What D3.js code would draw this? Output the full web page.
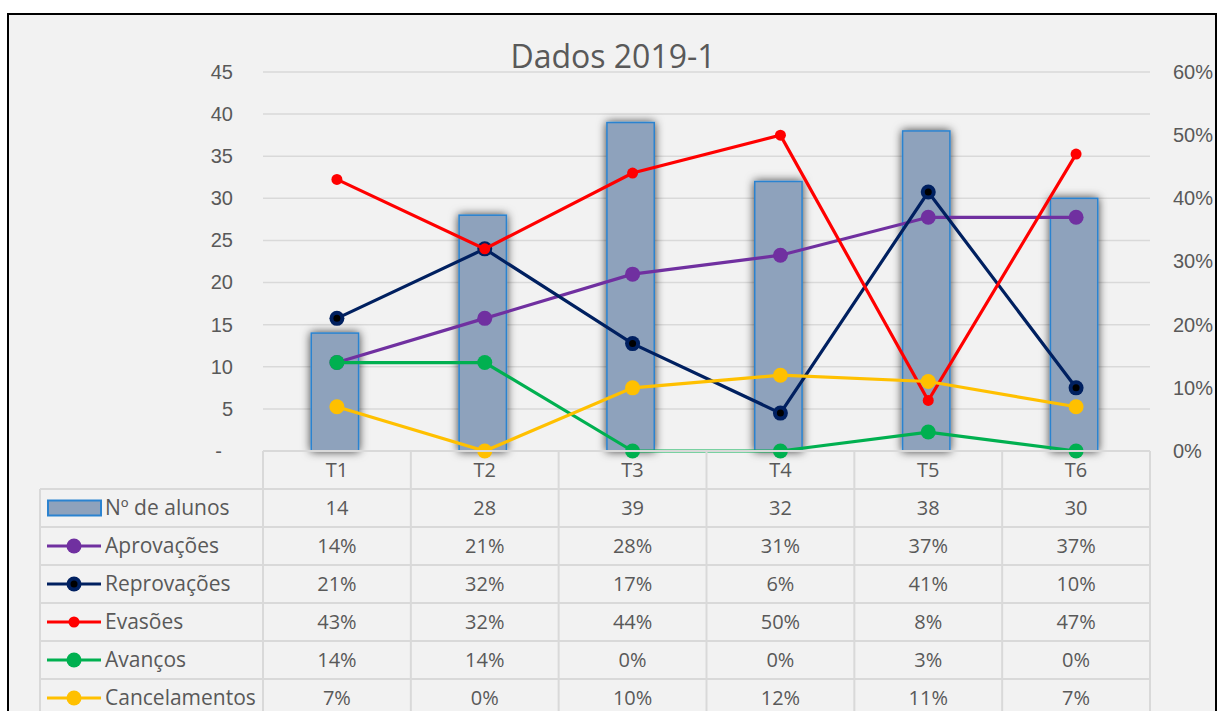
<!DOCTYPE html>
<html>
<head>
<meta charset="utf-8">
<script src="https://cdn.jsdelivr.net/npm/d3@7"></script>
<style>
  body { margin: 0; background: #fff; }
  svg { display: block; font-family: "Open Sans", "Noto Sans", sans-serif; }
</style>
</head>
<body>
<div id="graph"></div>
<script>
// chart data
const categories = ["T1", "T2", "T3", "T4", "T5", "T6"];
const alunos = [14, 28, 39, 32, 38, 30];
const aprovacoes = [0.14, 0.21, 0.28, 0.31, 0.37, 0.37];
const reprovacoes = [0.21, 0.32, 0.17, 0.06, 0.41, 0.10];
const evasoes = [0.43, 0.32, 0.44, 0.50, 0.08, 0.47];
const avancos = [0.14, 0.14, 0.00, 0.00, 0.03, 0.00];
const cancelamentos = [0.07, 0.00, 0.10, 0.12, 0.11, 0.07];
const leftTicks = [0, 5, 10, 15, 20, 25, 30, 35, 40, 45];
const rightTicks = [0, 0.1, 0.2, 0.3, 0.4, 0.5, 0.6];
const title = "Dados 2019-1";

const lineSeries = [
  { name: "Aprovações", values: aprovacoes, color: "#7030a0", r: 7.5 },
  { name: "Reprovações", values: reprovacoes, color: "#002060", r: 7.5, inner: "#000" },
  { name: "Evasões", values: evasoes, color: "#ff0000", r: 5.5 },
  { name: "Avanços", values: avancos, color: "#00b050", r: 7.5 },
  { name: "Cancelamentos", values: cancelamentos, color: "#ffc000", r: 7.5 }
];

window.addEventListener("DOMContentLoaded", main)

function main() {
  const W = 1218, H = 711;
  const L = 263, R = 1150, T = 72, B = 451;
  const rowH = 38;
  const textCol = "#595959";
  const gridCol = "#d9d9d9";

  const svg = d3.select("#graph").append("svg").attr("width", W).attr("height", H)

  const defs = svg.append("defs")
  const f = defs.append("filter").attr("id", "shadow")
    .attr("x", "-60%").attr("y", "-20%").attr("width", "220%").attr("height", "140%")
  f.append("feDropShadow").attr("dx", 0).attr("dy", 0).attr("stdDeviation", 5)
    .attr("flood-color", "#000").attr("flood-opacity", 0.75)

  // frame
  svg.append("rect").attr("x", 8).attr("y", 14).attr("width", 1208).attr("height", 720)
    .attr("fill", "#f2f2f2").attr("stroke", "#000").attr("stroke-width", 2)

  const x = d3.scaleBand().domain(categories).range([L, R]).padding(0);
  const yL = d3.scaleLinear().domain([0, 45]).range([B, T]);
  const yR = d3.scaleLinear().domain([0, 0.6]).range([B, T]);

  /* gridlines */
  svg.append("g").selectAll("line").data(leftTicks.slice(1)).enter().append("line")
    .attr("x1", L).attr("x2", R)
    .attr("y1", d => yL(d)).attr("y2", d => yL(d))
    .attr("stroke", gridCol).attr("stroke-width", 1.5)

  /* title */
  svg.append("text").attr("x", 613).attr("y", 68).attr("text-anchor", "middle")
    .attr("font-size", 32).attr("fill", textCol).text(title)

  /* axes */
  const axL = svg.append("g").attr("transform", "translate(" + L + ",0)")
    .call(d3.axisLeft(yL).tickValues(leftTicks).tickSize(0).tickPadding(30)
      .tickFormat(d => d === 0 ? "-" : d))
  axL.select(".domain").remove()
  axL.selectAll("text").attr("font-size", 20).attr("fill", textCol).attr("font-family", null)
    .attr("dx", d => d === 0 ? -11 : 0)

  const axR = svg.append("g").attr("transform", "translate(" + R + ",0)")
    .call(d3.axisRight(yR).tickValues(rightTicks).tickSize(0).tickPadding(23)
      .tickFormat(d3.format(".0%")))
  axR.select(".domain").remove()
  axR.selectAll("text").attr("font-size", 20).attr("fill", textCol).attr("font-family", null)

  /* bars */
  const bw = x.bandwidth() * 0.32;
  svg.append("g").selectAll("rect").data(alunos).enter().append("rect")
    .attr("x", (d, i) => x(categories[i]) + x.bandwidth() / 2 - bw / 2 - 2)
    .attr("y", d => yL(d))
    .attr("width", bw)
    .attr("height", d => B - yL(d))
    .attr("fill", "#8ea2bc")
    .attr("stroke", "#2b83d0").attr("stroke-width", 1.5)
    .attr("filter", "url(#shadow)")

  /* lines */
  const cx = c => x(c) + x.bandwidth() / 2;
  lineSeries.forEach(s => {
    const line = d3.line().x((d, i) => cx(categories[i])).y(d => yR(d));
    const g = svg.append("g")
    g.append("path").datum(s.values).attr("d", line)
      .attr("fill", "none").attr("stroke", s.color).attr("stroke-width", 3.2)
    g.selectAll("circle.m").data(s.values).enter().append("circle").attr("class", "m")
      .attr("cx", (d, i) => cx(categories[i])).attr("cy", d => yR(d))
      .attr("r", s.r).attr("fill", s.color)
    if (s.inner) {
      g.selectAll("circle.in").data(s.values).enter().append("circle").attr("class", "in")
        .attr("cx", (d, i) => cx(categories[i])).attr("cy", d => yR(d))
        .attr("r", 3.5).attr("fill", s.inner)
    }
  })

  /* data table */
  const tbl = svg.append("g")
  const nRows = lineSeries.length + 1;
  const tableBottom = B + rowH * (nRows + 1);
  // horizontal lines
  const hRows = d3.range(nRows + 2);
  tbl.selectAll("line.h").data(hRows).enter().append("line").attr("class", "h")
    .attr("x1", (d) => d === 0 ? L : 40).attr("x2", R)
    .attr("y1", d => B + d * rowH).attr("y2", d => B + d * rowH)
    .attr("stroke", gridCol).attr("stroke-width", 2)
  // vertical lines
  const vx = categories.map(c => x(c)).concat([R]);
  tbl.selectAll("line.v").data(vx).enter().append("line").attr("class", "v")
    .attr("x1", d => d).attr("x2", d => d)
    .attr("y1", B).attr("y2", tableBottom)
    .attr("stroke", gridCol).attr("stroke-width", 2)
  tbl.append("line").attr("x1", 40).attr("x2", 40)
    .attr("y1", B + rowH).attr("y2", tableBottom)
    .attr("stroke", gridCol).attr("stroke-width", 2)

  // category header
  tbl.selectAll("text.cat").data(categories).enter().append("text").attr("class", "cat")
    .attr("x", d => cx(d)).attr("y", B + rowH / 2).attr("dy", "0.35em")
    .attr("text-anchor", "middle").attr("font-size", 20).attr("fill", textCol)
    .text(d => d)

  const rows = [{ name: "Nº de alunos", values: alunos, bar: true }].concat(lineSeries);
  const pct = d3.format(".0%");
  rows.forEach((row, ri) => {
    const yc = B + rowH * (ri + 1) + rowH / 2;
    // legend key
    if (row.bar) {
      tbl.append("rect").attr("x", 48).attr("y", yc - 7.5).attr("width", 53).attr("height", 15)
        .attr("fill", "#8ea2bc").attr("stroke", "#2b83d0").attr("stroke-width", 2)
    } else {
      tbl.append("line").attr("x1", 47).attr("x2", 101).attr("y1", yc).attr("y2", yc)
        .attr("stroke", row.color).attr("stroke-width", 3.2)
      tbl.append("circle").attr("cx", 74).attr("cy", yc).attr("r", row.r).attr("fill", row.color)
      if (row.inner) tbl.append("circle").attr("cx", 74).attr("cy", yc).attr("r", 3.5).attr("fill", row.inner)
    }
    tbl.append("text").attr("x", 105).attr("y", yc).attr("dy", "0.35em")
      .attr("font-size", 21).attr("fill", textCol).text(row.name)
    tbl.selectAll(null).data(row.values).enter().append("text")
      .attr("x", (d, i) => cx(categories[i])).attr("y", yc).attr("dy", "0.35em")
      .attr("text-anchor", "middle").attr("font-size", 20).attr("fill", textCol)
      .text(d => row.bar ? d : pct(d))
  })
}
</script>
</body>
</html>
